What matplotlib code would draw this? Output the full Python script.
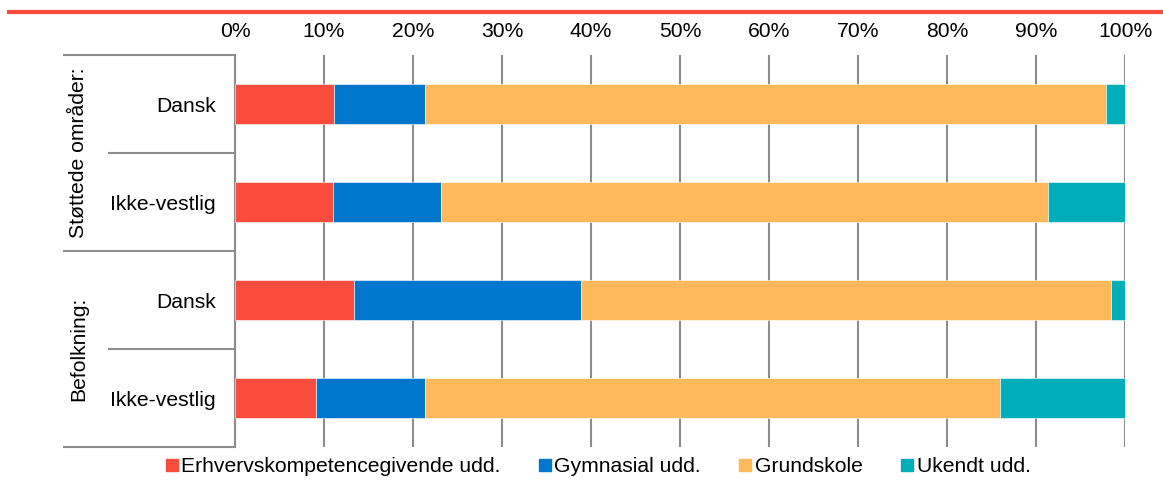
import matplotlib.pyplot as plt
from matplotlib.lines import Line2D

plt.rcParams['font.family'] = ['Liberation Sans', 'DejaVu Sans']

# data (percent of each group)
categories = ["Dansk", "Ikke-vestlig", "Dansk", "Ikke-vestlig"]
groups = ["Støttede områder:", "Befolkning:"]
series_names = ["Erhvervskompetencegivende udd.", "Gymnasial udd.", "Grundskole", "Ukendt udd."]
erhverv = [11.1, 11.0, 13.4, 9.05]
gymnasial = [10.3, 12.15, 25.5, 12.25]
grundskole = [76.5, 68.15, 59.5, 64.6]
ukendt = [2.1, 8.7, 1.6, 14.1]
tick_values = [0, 10, 20, 30, 40, 50, 60, 70, 80, 90, 100]

colors = ["#F84C3C", "#0077CC", "#FDB95A", "#00AEB9"]
grid_col = "#8C8C8C"
fs = 15.2

fig = plt.figure(figsize=(11.63, 4.8), dpi=100)
ax = fig.add_axes([235/1163, 1-447/480, 890/1163, 392/480])

ypos = list(range(len(categories)))
left = [0] * len(categories)
for vals, name, col in zip([erhverv, gymnasial, grundskole, ukendt], series_names, colors):
    ax.barh(ypos, vals, left=left, height=0.4, color=col, edgecolor="white", linewidth=0.4, label=name, zorder=3)
    left = [l + v for l, v in zip(left, vals)]

ax.set_xlim(0, 100)
ax.set_ylim(len(categories) - 0.5, -0.5)
ax.set_xticks(tick_values)
ax.set_xticklabels([str(t) + "%" for t in tick_values])
ax.xaxis.tick_top()
ax.tick_params(axis="x", length=0, pad=10, labelsize=fs)
ax.set_yticks(ypos)
ax.set_yticklabels(categories)
ax.tick_params(axis="y", length=0, pad=14, labelsize=fs)
ax.grid(axis="x", color=grid_col, linewidth=1.5, zorder=0)
for s in ["top", "right", "bottom"]:
    ax.spines[s].set_visible(False)
ax.spines["left"].set_color(grid_col)
ax.spines["left"].set_linewidth(1.5)

# multi-level category lines, Excel style
x_outer = (63 - 235) / 890
x_inner = (108 - 235) / 890
for i in range(len(categories) + 1):
    y = i - 0.5
    x0 = x_outer if i % 2 == 0 else x_inner
    ax.plot([x0, 0], [y, y], transform=ax.get_yaxis_transform(), color=grid_col,
            linewidth=1.5, clip_on=False, solid_capstyle="butt")
for g, name in enumerate(groups):
    ax.text((79 - 235) / 890, 2 * g + 0.5, name, transform=ax.get_yaxis_transform(),
            rotation=90, ha="center", va="center", fontsize=fs)

# red line on top
fig.add_artist(Line2D([9/1163, 1], [1-12/480, 1-12/480], color="#F84C3C", linewidth=3))

handles = [Line2D([], [], marker="s", linestyle="", markersize=8, color=c) for c in colors]
fig.legend(handles, series_names, loc="center", bbox_to_anchor=(598/1163, 1-467/480), ncol=4,
           frameon=False, fontsize=fs, handlelength=0.6, handletextpad=0.15, columnspacing=1.8,
           borderpad=0, borderaxespad=0)

plt.savefig("out.png", dpi=100)
